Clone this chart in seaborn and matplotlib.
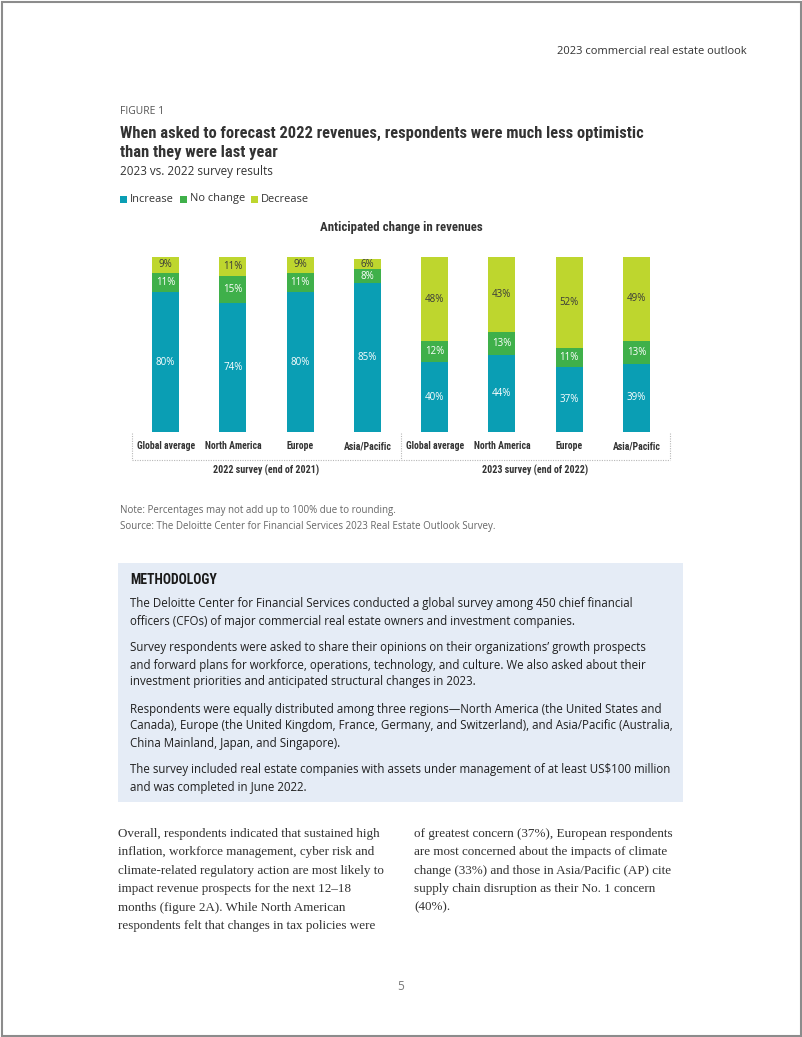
import matplotlib
matplotlib.use("Agg")
import matplotlib.pyplot as plt
import matplotlib.font_manager as fm
from matplotlib.lines import Line2D
from matplotlib.patches import Rectangle
import matplotlib.transforms as mtransforms
import seaborn as sns
import pandas as pd

# ---------------- data ----------------
regions = ["Global average", "North America", "Europe", "Asia/Pacific"]
surveys = ["2022 survey (end of 2021)", "2023 survey (end of 2022)"]
increase = [80, 74, 80, 85, 40, 44, 37, 39]
no_change = [11, 15, 11, 8, 12, 13, 11, 13]
decrease = [9, 11, 9, 6, 48, 43, 52, 49]
series_names = ["Increase", "No change", "Decrease"]
colors = {"Increase": "#0A9EB4", "No change": "#3FB04A", "Decrease": "#BED62E"}

sns.set_theme(style="white")

avail = {f.name for f in fm.fontManager.ttflist}
def pick(*names):
    for n in names:
        if n in avail:
            return n
    return "DejaVu Sans"

SANS = pick("Open Sans", "Noto Sans", "DejaVu Sans")
COND = pick("Roboto Condensed", "Open Sans Condensed", "Liberation Sans Narrow", "Roboto", "DejaVu Sans")
SERIF = pick("Liberation Serif", "DejaVu Serif")
plt.rcParams["font.family"] = [SANS, "DejaVu Sans"]

W, H = 802, 1037
fig = plt.figure(figsize=(W / 100, H / 100), dpi=100)
fig.patch.set_facecolor("white")

def T(x, y, s, **kw):
    kw.setdefault("va", "center")
    fig.text(x / W, 1 - y / H, s, **kw)

# page border
fig.add_artist(Rectangle((1.5 / W, 1.5 / H), (W - 3) / W, (H - 3) / H,
                         transform=fig.transFigure, fill=False,
                         edgecolor="#8c8c8c", lw=1.5))

# header
T(747, 52, "2023 commercial real estate outlook", ha="right", fontsize=8, color="#333333", family=SANS)
T(120, 112, "FIGURE 1", fontsize=7.5, color="#555555", family=SANS)
T(120, 133, "When asked to forecast 2022 revenues, respondents were much less optimistic",
  fontsize=11.9, fontweight="bold", color="#333333", family=COND)
T(120, 153, "than they were last year", fontsize=11.9, fontweight="bold", color="#333333", family=COND)
T(120, 172, "2023 vs. 2022 survey results", fontsize=8.4, color="#333333", family=SANS)

# legend
leg_x = [120, 180, 251]
for lx, name in zip(leg_x, series_names):
    fig.add_artist(Rectangle((lx / W, 1 - 203 / H), 7 / W, 7 / H, transform=fig.transFigure,
                             facecolor=colors[name], edgecolor="none"))
    T(lx + 10, 199, name, fontsize=7.9, color="#333333", family=SANS)

# ---------------- chart ----------------
keys = [f"{s}|{r}" for s in surveys for r in regions]
df = pd.DataFrame({
    "key": keys,
    "increase": increase,
    "no_change": no_change,
    "decrease": decrease,
})
df["cum_nc"] = df["increase"] + df["no_change"]
df["cum_all"] = df["cum_nc"] + df["decrease"]

ax = fig.add_axes([132 / W, 1 - 432 / H, 538 / W, 175 / H])
bar_kw = dict(order=keys, saturation=1, width=0.4, ax=ax, linewidth=0, edgecolor="none")
sns.barplot(data=df, x="key", y="cum_all", color=colors["Decrease"], **bar_kw)
sns.barplot(data=df, x="key", y="cum_nc", color=colors["No change"], **bar_kw)
sns.barplot(data=df, x="key", y="increase", color=colors["Increase"], **bar_kw)
ax.set_xlim(-0.5, 7.5)
ax.set_ylim(0, 100)
ax.set_xlabel("")
ax.set_ylabel("")
ax.set_yticks([])
for sp in ax.spines.values():
    sp.set_visible(False)
ax.set_xticks(range(len(keys)))
ax.set_xticklabels([k.split("|")[1] for k in keys], fontsize=7.0, fontweight="bold",
                   color="#333333", family=COND)
ax.tick_params(axis="x", length=0, pad=6.5)
ax.set_facecolor("white")

lbl_kw = dict(ha="center", va="center", fontsize=7.0, family=SANS)
for i, row in df.iterrows():
    ax.text(i, row["increase"] / 2, f"{row['increase']}%", color="white", **lbl_kw)
    ax.text(i, row["increase"] + row["no_change"] / 2, f"{row['no_change']}%", color="white", **lbl_kw)
    ax.text(i, row["cum_nc"] + row["decrease"] / 2, f"{row['decrease']}%", color="#3a3a3a", **lbl_kw)

blend = mtransforms.blended_transform_factory(ax.transData, ax.transAxes)
y_top = -1 / 175
y_bot = -28 / 175
dot = dict(color="#b8b8b8", lw=0.8, linestyle=(0, (1, 1.2)), transform=blend, clip_on=False)
for xv in (-0.5, 3.5, 7.5):
    ax.add_line(Line2D([xv, xv], [y_top, y_bot], **dot))
ax.add_line(Line2D([-0.5, 7.5], [y_bot, y_bot], **dot))

for gi, s in enumerate(surveys):
    ax.text(gi * 4 + 1.5, -38 / 175, s, transform=blend, ha="center", va="center",
            fontsize=7.2, fontweight="bold", color="#333333", family=COND)
ax.text(3.5, (432 - 227) / 175, "Anticipated change in revenues", transform=blend,
        ha="center", va="center", fontsize=9.3, fontweight="bold", color="#333333", family=COND)

# notes
T(120, 511, "Note: Percentages may not add up to 100% due to rounding.", fontsize=7, color="#666666", family=SANS)
T(120, 527, "Source: The Deloitte Center for Financial Services 2023 Real Estate Outlook Survey.",
  fontsize=7, color="#666666", family=SANS)

# methodology box
fig.add_artist(Rectangle((118 / W, 1 - 802 / H), (683 - 118) / W, (802 - 563) / H,
                         transform=fig.transFigure, facecolor="#E5ECF6", edgecolor="none"))
T(130, 580, "METHODOLOGY", fontsize=9.8, fontweight="bold", color="#1a1a1a", family=COND)
meth = [
    (604, "The Deloitte Center for Financial Services conducted a global survey among 450 chief financial"),
    (621, "officers (CFOs) of major commercial real estate owners and investment companies."),
    (648, "Survey respondents were asked to share their opinions on their organizations\u2019 growth prospects"),
    (665, "and forward plans for workforce, operations, technology, and culture. We also asked about their"),
    (682, "investment priorities and anticipated structural changes in 2023."),
    (709, "Respondents were equally distributed among three regions\u2014North America (the United States and"),
    (726, "Canada), Europe (the United Kingdom, France, Germany, and Switzerland), and Asia/Pacific (Australia,"),
    (743, "China Mainland, Japan, and Singapore)."),
    (770, "The survey included real estate companies with assets under management of at least US$100 million"),
    (787, "and was completed in June 2022."),
]
for y, s in meth:
    T(130, y, s, fontsize=8.3, color="#1f1f1f", family=SANS)

left_col = [
    "Overall, respondents indicated that sustained high",
    "inflation, workforce management, cyber risk and",
    "climate-related regulatory action are most likely to",
    "impact revenue prospects for the next 12\u201318",
    "months (figure 2A). While North American",
    "respondents felt that changes in tax policies were",
]
right_col = [
    "of greatest concern (37%), European respondents",
    "are most concerned about the impacts of climate",
    "change (33%) and those in Asia/Pacific (AP) cite",
    "supply chain disruption as their No. 1 concern",
    "(40%).",
]
for i, s in enumerate(left_col):
    T(118, 834 + i * 18.4, s, fontsize=9.45, color="#333333", family=SERIF)
for i, s in enumerate(right_col):
    T(414, 834 + i * 18.4, s, fontsize=9.45, color="#333333", family=SERIF)

T(401, 987, "5", ha="center", fontsize=8.5, color="#777777", family=SANS)

fig.savefig("out.png", dpi=100, facecolor="white")
